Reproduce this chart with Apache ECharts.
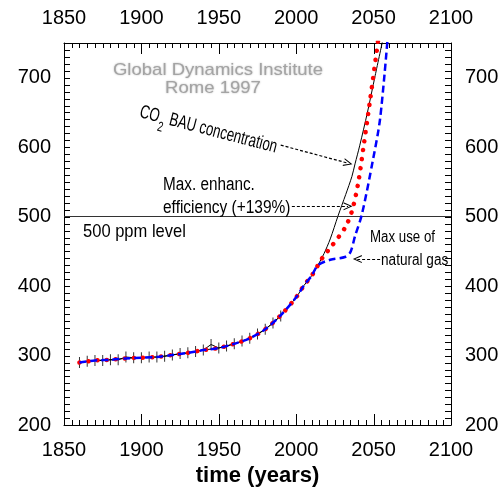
<!DOCTYPE html>
<html>
<head>
<meta charset="utf-8">
<script src="https://cdn.jsdelivr.net/npm/echarts@6/dist/echarts.min.js"></script>
<style>
html, body { margin: 0; padding: 0; background: #fff; }
#main { width: 502px; height: 492px; }
</style>
</head>
<body>
<div id="main"></div>
<script>
// measured CO2 (black line with error bars)
var obsYears = [1860, 1865, 1870, 1875, 1880, 1885, 1890, 1895, 1900, 1905, 1910, 1915, 1920, 1925,
    1930, 1935, 1940, 1945, 1950, 1955, 1960, 1965, 1970, 1975, 1980, 1985, 1990];
var obsCO2 = [290, 292, 293, 293, 294, 294, 298, 297, 297, 298, 298, 299, 301, 303,
    304, 306, 308, 316, 311, 314, 317, 321, 325, 331, 338, 347, 357];

// common history of the three scenarios
var histYears = [1860, 1870, 1880, 1890, 1900, 1910, 1920, 1930, 1940, 1950, 1960, 1970, 1980, 1990, 2000, 2005, 2010, 2014];
var histCO2 = [290, 293, 294, 296, 297, 298, 301, 304, 308, 311, 317, 325, 338, 358, 384, 401, 415, 430];

// business as usual (black)
var bauYears = [2018, 2022, 2027, 2032, 2036, 2038, 2041, 2046, 2051, 2056];
var bauCO2 = [447, 468, 501, 532, 558, 576, 602, 650, 703, 755];

// max enhanced efficiency (red dots)
var effYears = [2017, 2023, 2031.5, 2036, 2040, 2043.5, 2048, 2053];
var effCO2 = [441, 458, 484, 508, 548, 601, 672, 755];

// max use of natural gas (blue dashes)
var gasYears = [2022, 2031.5, 2035, 2038, 2042.4, 2049.6, 2054.2, 2059];
var gasCO2 = [438, 442, 449, 472, 503, 582, 641, 755];

// tick positions (years every 5, ppm every 10)
var xTicks = [];
for (var t = 1850; t <= 2100; t += 5) xTicks.push(t);
var yTicks = [];
for (var v = 200; v <= 740; v += 10) yTicks.push(v);

function pairs(xs, ys) {
    var out = [];
    for (var i = 0; i < xs.length; i++) out.push([xs[i], ys[i]]);
    return out;
}

var hist = pairs(histYears, histCO2);
var chevron = 'path://M0,10L5,0L10,10L8.6,10L5,2.6L1.4,10Z';
var sans = '"Liberation Sans", Arial, sans-serif';
var lab = { color: '#000', fontSize: 20, fontFamily: sans };

function xAx(pos) {
    return {
        type: 'value', position: pos, min: 1850, max: 2100, interval: 50,
        axisLine: { show: true, lineStyle: { color: '#000', width: 1 } },
        axisTick: { show: false },
        splitLine: { show: false },
        axisLabel: Object.assign({ margin: 15, formatter: function (v) { return String(v); } }, lab)
    };
}
function yAx(pos, margin) {
    return {
        type: 'value', position: pos, min: 200, max: 750, interval: 50,
        axisLine: { show: true, lineStyle: { color: '#000', width: 1 } },
        axisTick: { show: false },
        splitLine: { show: false },
        axisLabel: Object.assign({
            margin: margin,
            formatter: function (v) { return v % 100 === 0 ? String(v) : ''; }
        }, lab)
    };
}

// inward ticks on all four sides, placed through the axes' scales
function xTickItem(params, api) {
    var yr = api.value(0);
    var len = yr % 50 === 0 ? 11 : 5;
    var b = api.coord([yr, 200]);
    var tp = api.coord([yr, 750]);
    var x = Math.round(b[0]);
    return {
        type: 'group',
        children: [
            { type: 'rect', shape: { x: x, y: Math.round(b[1]) - len, width: 1, height: len }, style: { fill: '#000' } },
            { type: 'rect', shape: { x: x, y: Math.round(tp[1]), width: 1, height: len }, style: { fill: '#000' } }
        ]
    };
}
function yTickItem(params, api) {
    var ppm = api.value(1);
    var l = api.coord([1850, ppm]);
    var r = api.coord([2100, ppm]);
    var y = Math.round(l[1]);
    return {
        type: 'group',
        children: [
            { type: 'rect', shape: { x: Math.round(l[0]), y: y, width: 6, height: 1 }, style: { fill: '#000' } },
            { type: 'rect', shape: { x: Math.round(r[0]) - 6, y: y, width: 6, height: 1 }, style: { fill: '#000' } }
        ]
    };
}

function note(x, y, text, size, sx) {
    return {
        type: 'text', x: x, y: y, scaleX: sx, z: 100,
        style: { text: text, textVerticalAlign: 'middle', font: size + 'px ' + sans, fill: '#000' }
    };
}

var myChart = echarts.init(document.getElementById('main'));

var xBottom = xAx('bottom');
xBottom.name = 'time (years)';
xBottom.nameLocation = 'middle';
xBottom.nameGap = 35;
xBottom.nameTextStyle = { color: '#000', fontSize: 22, fontWeight: 'bold', fontFamily: sans };

var option = {
    animation: false,
    grid: { left: 64, right: 51, top: 43, bottom: 64 },
    xAxis: [xBottom, xAx('top')],
    yAxis: [yAx('left', 13), yAx('right', 14)],
    series: [{
        name: 'x ticks',
        type: 'custom',
        data: xTicks.map(function (yr) { return [yr, 200]; }),
        renderItem: xTickItem,
        silent: true,
        clip: false,
        zlevel: 1,
        z: 10
    }, {
        name: 'y ticks',
        type: 'custom',
        data: yTicks.map(function (ppm) { return [1850, ppm]; }),
        renderItem: yTickItem,
        silent: true,
        clip: false,
        zlevel: 1,
        z: 10
    }, {
        name: 'measured',
        type: 'line',
        data: pairs(obsYears, obsCO2),
        symbol: 'none',
        lineStyle: { color: '#000', width: 1 },
        z: 2
    }, {
        name: 'error bars',
        type: 'scatter',
        data: pairs(obsYears, obsCO2),
        symbol: 'rect',
        symbolSize: [1, 11],
        itemStyle: { color: '#000' },
        silent: true,
        z: 2
    }, {
        name: 'BAU',
        type: 'line',
        data: hist.concat(pairs(bauYears, bauCO2)),
        symbol: 'none',
        smooth: 0.3,
        lineStyle: { color: '#000', width: 1 },
        z: 3,
        markLine: {
            silent: true,
            symbol: ['none', chevron],
            symbolSize: [8, 9],
            label: { show: false },
            emphasis: { disabled: true },
            lineStyle: { color: '#000', width: 1.2, type: [3, 2] },
            data: [
                [{ coord: [1990, 603] }, { coord: [2033.5, 577] }],
                [{ coord: [1997.2, 515] }, { coord: [2033.5, 515] }],
                [{ coord: [2054.2, 439] }, { coord: [2039.5, 439] }]
            ]
        }
    }, {
        name: 'Max. enhanc. efficiency',
        type: 'line',
        data: hist.concat(pairs(effYears, effCO2)),
        symbol: 'none',
        smooth: 0.3,
        lineStyle: { color: '#ff0000', width: 4.5, type: [0.1, 9], cap: 'round' },
        z: 4,
        markLine: {
            silent: true,
            symbol: 'none',
            label: { show: false },
            emphasis: { disabled: true },
            lineStyle: { color: '#333', width: 1, type: 'solid' },
            data: [{ yAxis: 500 }]
        }
    }, {
        name: 'Max use of natural gas',
        type: 'line',
        data: hist.concat(pairs(gasYears, gasCO2)),
        symbol: 'none',
        smooth: 0.3,
        lineStyle: { color: '#0000ff', width: 2.5, type: [7, 4] },
        z: 5
    }],
    graphic: [{
        type: 'text', x: 218, y: 70, scaleX: 1.09, z: 100,
        style: { text: 'Global Dynamics Institute', textAlign: 'center', textVerticalAlign: 'middle',
            font: '17px ' + sans, fill: '#a4a4a4', textShadowColor: '#b8b8b8', textShadowBlur: 2 }
    }, {
        type: 'text', x: 213, y: 88, scaleX: 1.09, z: 100,
        style: { text: 'Rome 1997', textAlign: 'center', textVerticalAlign: 'middle',
            font: '17px ' + sans, fill: '#a4a4a4', textShadowColor: '#b8b8b8', textShadowBlur: 2 }
    }, {
        type: 'text', x: 140, y: 112, rotation: -0.255, scaleX: 0.7, z: 100,
        style: {
            text: '{a|CO}{s|2}{a| BAU concentration}',
            textAlign: 'left', textVerticalAlign: 'middle',
            rich: {
                a: { fontSize: 19, fontFamily: sans, fill: '#000' },
                s: { fontSize: 14, fontFamily: sans, fill: '#000', padding: [20, 1, 0, 1] }
            }
        }
    },
        note(163, 185, 'Max. enhanc.', 18, 0.85),
        note(163, 208, 'efficiency (+139%)', 18, 0.86),
        note(83, 232, '500 ppm level', 19, 0.87),
        note(370, 238, 'Max use of', 16, 0.83),
        note(381, 261, 'natural gas', 16, 0.85)
    ]
};

myChart.setOption(option);
</script>
</body>
</html>
